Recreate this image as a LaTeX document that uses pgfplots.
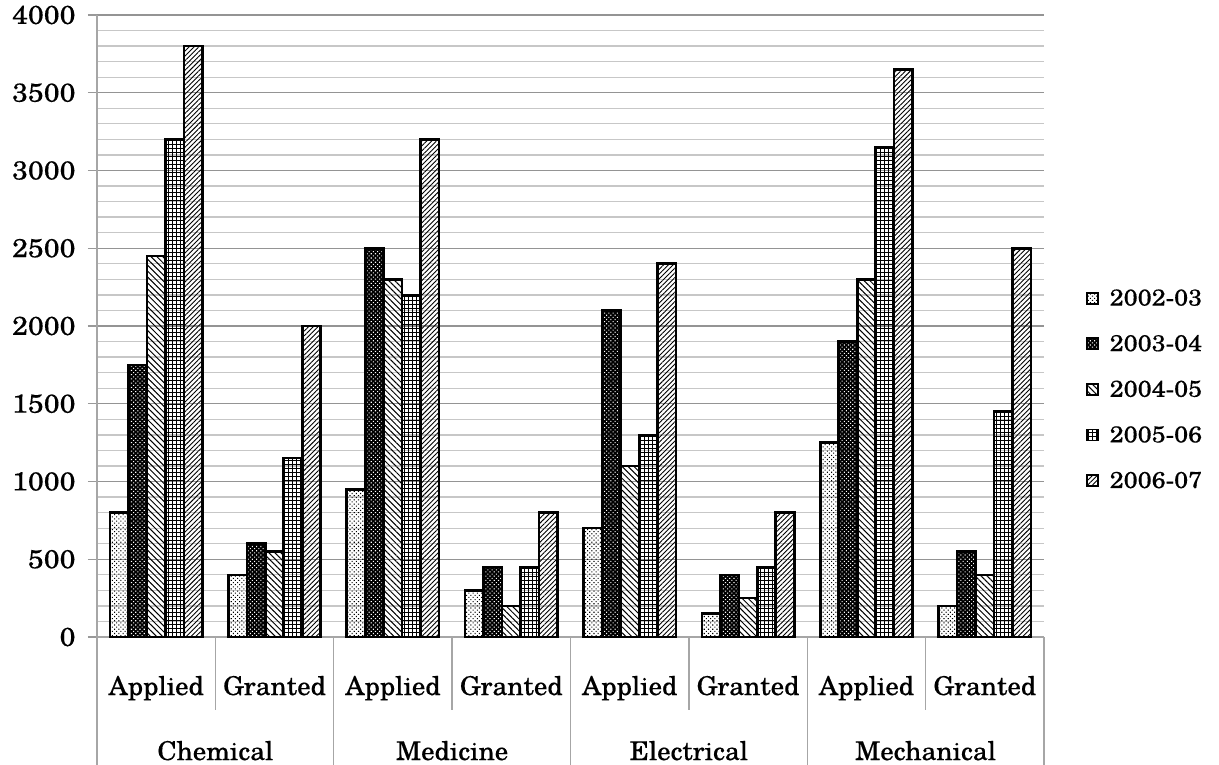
\documentclass[border=0pt]{standalone}
\usepackage{pgfplots}
\pgfplotsset{compat=1.18}
\usetikzlibrary{patterns.meta}
\usepackage{fontspec}
\setmainfont{TeX Gyre Schola}
\newfontfamily\scholaA{TeX Gyre Schola}[FakeStretch=1.03, FakeBold=0.4]
\newfontfamily\scholaB{TeX Gyre Schola}[FakeStretch=1.1, FakeBold=0.4]
\begin{document}
\begin{tikzpicture}
\pgfplotsset{
  bars/.style={draw=black, line width=2.6bp,
    legend image code/.code={\draw[##1, line width=1.8bp] (0bp,-5.5bp) rectangle (11bp,5.5bp);}},
}
\begin{axis}[
  name=ax,
  scale only axis, width=947bp, height=622bp,
  clip=false,
  ybar=0pt, bar width=0.156,
  xmin=-0.5, xmax=7.5, ymin=0, ymax=4000,
  xtick={0,...,7},
  xticklabels={Applied,Granted,Applied,Granted,Applied,Granted,Applied,Granted},
  x tick style={draw=none},
  xticklabel style={anchor=base, yshift=-49bp, font=\scholaA\fontsize{26}{30}\selectfont},
  ytick={0,500,...,4000},
  minor y tick num=4,
  ymajorgrids, yminorgrids,
  major grid style={color=black!42, line width=1.3bp},
  minor grid style={color=black!22, line width=1.3bp},
  axis x line*=bottom, axis y line*=left,
  axis line style={black!35, line width=1.3bp, -},
  y tick style={black!40, line width=1.3bp},
  tick align=outside, major tick length=9bp, minor tick length=0pt,
  yticklabel style={font=\scholaB\fontsize{26}{30}\selectfont, xshift=-9bp},
  /pgf/number format/1000 sep={},
  /pgf/number format/assume math mode=true,
  legend style={at={(1.044,0.398)}, anchor=west, draw=none, fill=none,
    font=\scholaB\fontsize{23}{27}\selectfont, row sep=24bp, column sep=9bp, inner sep=0pt},
  legend cell align=left,
]
\addplot[bars, pattern={Dots[distance=3bp,angle=45,radius=0.75bp]}]
  coordinates {(0,800) (1,400) (2,950) (3,300) (4,700) (5,150) (6,1250) (7,200)};
\addplot[bars, fill=black, postaction={pattern={Dots[distance=3bp,angle=45,radius=0.75bp]}, pattern color=white}]
  coordinates {(0,1750) (1,600) (2,2500) (3,450) (4,2100) (5,400) (6,1900) (7,550)};
\addplot[bars, pattern={Lines[angle=-45,distance=4.2bp,line width=1bp]}]
  coordinates {(0,2450) (1,550) (2,2300) (3,200) (4,1100) (5,250) (6,2300) (7,400)};
\addplot[bars, pattern={Hatch[angle=0,distance=4bp,line width=1bp]}]
  coordinates {(0,3200) (1,1150) (2,2200) (3,450) (4,1300) (5,450) (6,3150) (7,1450)};
\addplot[bars, pattern={Lines[angle=45,distance=3.4bp,line width=0.9bp]}]
  coordinates {(0,3800) (1,2000) (2,3200) (3,800) (4,2400) (5,800) (6,3650) (7,2500)};
\legend{2002-03,2003-04,2004-05,2005-06,2006-07}
\pgfplotsinvokeforeach{0.5,2.5,4.5,6.5}{
  \draw[black!35, line width=1.3bp] (axis cs:#1,0) -- ([yshift=-73bp]axis cs:#1,0);
}
\pgfplotsinvokeforeach{-0.5,1.5,3.5,5.5,7.5}{
  \draw[black!35, line width=1.3bp] (axis cs:#1,0) -- ([yshift=-140bp]axis cs:#1,0);
}
\node[anchor=base, font=\scholaA\fontsize{26}{30}\selectfont] at ([yshift=-123bp]axis cs:0.5,0) {Chemical};
\node[anchor=base, font=\scholaA\fontsize{26}{30}\selectfont] at ([yshift=-123bp]axis cs:2.5,0) {Medicine};
\node[anchor=base, font=\scholaA\fontsize{26}{30}\selectfont] at ([yshift=-123bp]axis cs:4.5,0) {Electrical};
\node[anchor=base, font=\scholaA\fontsize{26}{30}\selectfont] at ([yshift=-123bp]axis cs:6.5,0) {Mechanical};
\end{axis}
\pgfresetboundingbox
\path[use as bounding box] ([xshift=-97bp,yshift=-128bp]ax.south west) rectangle ([xshift=175bp,yshift=15bp]ax.north east);
\end{tikzpicture}
\end{document}
